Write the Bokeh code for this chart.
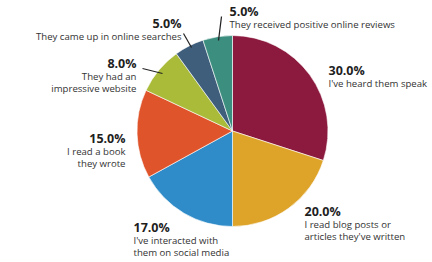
import math
from bokeh.plotting import figure
from bokeh.models import Range1d, ColumnDataSource
from bokeh.core.properties import value
from bokeh.embed import file_html
from bokeh.resources import INLINE

categories = ["I've heard them speak", "I read blog posts or\narticles they've written",
              "I've interacted with\nthem on social media", "I read a book\nthey wrote",
              "They had an\nimpressive website", "They came up in online searches",
              "They received positive online reviews"]
shares = [30.0, 20.0, 17.0, 15.0, 8.0, 5.0, 5.0]
colors = ["#8C1A3F", "#DEA42A", "#2F8CC8", "#DF542B", "#A9BB39", "#3F5E7C", "#3C8E7F"]

W, H = 432, 262
cx, cy, r = 232, H - 130.5, 95.5

total = sum(shares)
starts, ends = [], []
acc = 0.0
for s in shares:
    starts.append(math.pi / 2 - acc / total * 2 * math.pi)
    acc += s
    ends.append(math.pi / 2 - acc / total * 2 * math.pi)

p = figure(width=W, height=H, output_backend="svg", toolbar_location=None,
           x_range=Range1d(0, W), y_range=Range1d(0, H), min_border=0)
p.axis.visible = False
p.grid.visible = False
p.outline_line_color = None
p.background_fill_color = "white"

src = ColumnDataSource(dict(x=[cx] * len(shares), y=[cy] * len(shares), start=starts, end=ends, color=colors))
p.wedge(x="x", y="y", radius=r, start_angle="start", end_angle="end", direction="clock",
        fill_color="color", line_color="white", line_width=0.6, source=src)

# label layout: (x, y of percentage, align)
layout = [(328, 70, "left"), (304, 211, "left"), (133, 227, "left"), (125, 138, "right"),
          (136, 63, "right"), (181, 23, "right"), (229, 11, "left")]
font = value("Open Sans")
for (lx, ly, al), s, c in zip(layout, shares, categories):
    p.text(x=[lx], y=[H - ly], text=["%.1f%%" % s], text_font=font, text_font_size="12.5px",
           text_font_style="bold", text_color="#1e1e1e", text_align=al, text_baseline="middle")
    for i, line in enumerate(c.split("\n")):
        p.text(x=[lx], y=[H - (ly + 12.5 + i * 12.5)], text=[line], text_font=font,
               text_font_size="9.6px", text_color="#333333", text_align=al, text_baseline="middle")

# leader lines for small slices
leaders = [((142, 68), (162, 73)), ((183, 33), (191, 47)), ((221, 16), (218, 40))]
for (x0, y0), (x1, y1) in leaders:
    p.line([x0, x1], [H - y0, H - y1], line_color="#222222", line_width=1.2)

open("out.html", "w").write(file_html(p, INLINE))
